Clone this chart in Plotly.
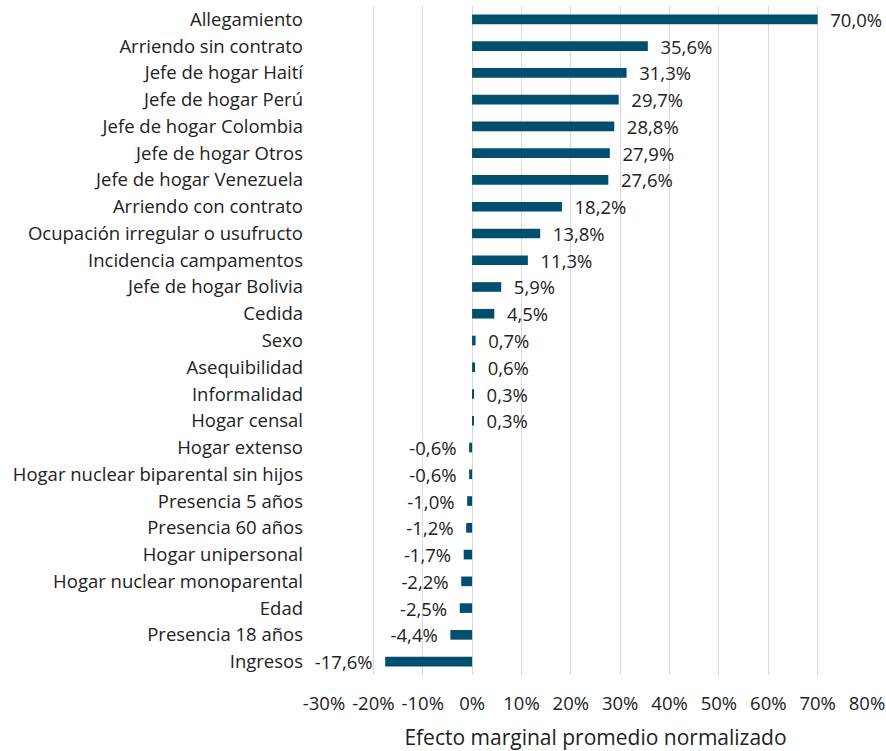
import plotly.graph_objects as go

categories = [
    "Allegamiento", "Arriendo sin contrato", "Jefe de hogar Haití", "Jefe de hogar Perú",
    "Jefe de hogar Colombia", "Jefe de hogar Otros", "Jefe de hogar Venezuela",
    "Arriendo con contrato", "Ocupación irregular o usufructo", "Incidencia campamentos",
    "Jefe de hogar Bolivia", "Cedida", "Sexo", "Asequibilidad", "Informalidad",
    "Hogar censal", "Hogar extenso", "Hogar nuclear biparental sin hijos",
    "Presencia 5 años", "Presencia 60 años", "Hogar unipersonal",
    "Hogar nuclear monoparental", "Edad", "Presencia 18 años", "Ingresos",
]
values = [
    70.0, 35.6, 31.3, 29.7, 28.8, 27.9, 27.6, 18.2, 13.8, 11.3, 5.9, 4.5, 0.7, 0.6,
    0.3, 0.3, -0.6, -0.6, -1.0, -1.2, -1.7, -2.2, -2.5, -4.4, -17.6,
]
tick_vals = [-30, -20, -10, 0, 10, 20, 30, 40, 50, 60, 70, 80]
tick_text = [f"{v}%" for v in tick_vals]

# comma decimals, a little gap between bar end and label
pad = "\u00a0\u00a0"
labels = []
for v in values:
    s = f"{v:.1f}%".replace(".", ",")
    labels.append(pad + s if v >= 0 else s + pad)

FONT = "Open Sans, Noto Sans, sans-serif"
INK = "#222222"
FS = 18.5

fig = go.Figure(
    go.Bar(
        x=values,
        y=categories,
        orientation="h",
        width=0.36,
        marker=dict(color="#004f6e", line=dict(width=0)),
        text=labels,
        textposition="outside",
        constraintext="none",
        textfont=dict(size=FS, color=INK, family=FONT),
        cliponaxis=False,
        hoverinfo="skip",
    )
)

fig.update_layout(
    width=886,
    height=751,
    template="plotly_white",
    plot_bgcolor="white",
    paper_bgcolor="white",
    margin=dict(l=324, r=19, t=6, b=76),
    font=dict(family=FONT, size=FS, color=INK),
    showlegend=False,
    hovermode=False,
)
fig.update_xaxes(
    range=[-30, 80],
    tickvals=tick_vals,
    ticktext=tick_text,
    showgrid=True,
    gridcolor="#d9d9d9",
    gridwidth=1,
    zeroline=False,
    showline=False,
    automargin=False,
    ticklabelstandoff=15,
    tickfont=dict(size=FS, color=INK),
    title=dict(text="Efecto marginal promedio normalizado", font=dict(size=21, color=INK), standoff=16),
)
fig.update_yaxes(
    autorange=False,
    range=[24.5, -0.5],
    showgrid=False,
    zeroline=False,
    showline=False,
    automargin=False,
    ticklabelstandoff=20,
    tickfont=dict(size=FS, color=INK),
)

# drop the default 8px body margin so the figure sits at the page corner
fig.write_html(
    "out.html",
    config={"displayModeBar": False},
    post_script="document.body.style.margin='0';",
)
